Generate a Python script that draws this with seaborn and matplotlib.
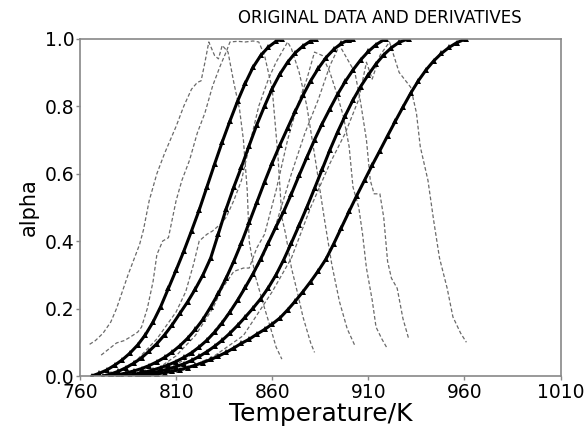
import pandas as pd
import matplotlib
matplotlib.use("Agg")
import matplotlib.pyplot as plt
import seaborn as sns

# alpha (conversion) curves
t1 = [766, 770, 774, 778, 782, 786, 790, 794, 798, 802, 806, 810, 814, 818, 822, 826, 830, 834, 838, 842, 846, 850, 854, 858, 862, 865]
a1 = [0.000, 0.008, 0.018, 0.032, 0.048, 0.068, 0.092, 0.122, 0.160, 0.206, 0.260, 0.314, 0.370, 0.430, 0.492, 0.560, 0.628, 0.694, 0.756, 0.815, 0.868, 0.915, 0.950, 0.975, 0.992, 1.000]

t2 = [772, 776, 780, 784, 788, 792, 796, 800, 804, 808, 812, 816, 820, 824, 828, 832, 836, 840, 844, 848, 852, 856, 860, 864, 868, 872, 876, 880, 883]
a2 = [0.000, 0.006, 0.014, 0.025, 0.038, 0.054, 0.074, 0.096, 0.122, 0.152, 0.186, 0.220, 0.258, 0.300, 0.350, 0.422, 0.495, 0.560, 0.620, 0.683, 0.745, 0.800, 0.852, 0.895, 0.930, 0.958, 0.978, 0.993, 1.000]

t3 = [776, 780, 784, 788, 792, 796, 800, 804, 808, 812, 816, 820, 824, 828, 832, 836, 840, 844, 848, 852, 856, 860, 864, 868, 872, 876, 880, 884, 888, 892, 896, 900, 902]
a3 = [0.000, 0.004, 0.009, 0.015, 0.022, 0.031, 0.042, 0.055, 0.071, 0.090, 0.112, 0.138, 0.168, 0.205, 0.245, 0.290, 0.340, 0.395, 0.455, 0.515, 0.575, 0.632, 0.685, 0.735, 0.785, 0.832, 0.875, 0.912, 0.944, 0.968, 0.986, 0.997, 1.000]

t4 = [782, 786, 790, 794, 798, 802, 806, 810, 814, 818, 822, 826, 830, 834, 838, 842, 846, 850, 854, 858, 862, 866, 870, 874, 878, 882, 886, 890, 894, 898, 902, 906, 910, 914, 919]
a4 = [0.000, 0.003, 0.007, 0.012, 0.018, 0.025, 0.033, 0.043, 0.055, 0.069, 0.086, 0.106, 0.130, 0.158, 0.190, 0.225, 0.263, 0.303, 0.347, 0.395, 0.443, 0.488, 0.540, 0.595, 0.648, 0.700, 0.748, 0.792, 0.835, 0.873, 0.907, 0.937, 0.962, 0.982, 1.000]

t5 = [786, 790, 794, 798, 802, 806, 810, 814, 818, 822, 826, 830, 834, 838, 842, 846, 850, 854, 858, 862, 866, 870, 874, 878, 882, 886, 890, 894, 898, 902, 906, 910, 914, 918, 922, 926, 931]
a5 = [0.000, 0.003, 0.006, 0.010, 0.015, 0.021, 0.028, 0.036, 0.046, 0.058, 0.072, 0.088, 0.106, 0.127, 0.150, 0.175, 0.201, 0.229, 0.262, 0.300, 0.345, 0.395, 0.447, 0.500, 0.556, 0.613, 0.670, 0.723, 0.772, 0.818, 0.858, 0.893, 0.925, 0.952, 0.973, 0.989, 1.000]

t6 = [792, 796, 800, 804, 808, 812, 816, 820, 824, 828, 832, 836, 840, 844, 848, 852, 856, 860, 864, 868, 872, 876, 880, 884, 888, 892, 896, 900, 904, 908, 912, 916, 920, 924, 928, 932, 936, 940, 944, 948, 952, 956, 961]
a6 = [0.000, 0.003, 0.006, 0.010, 0.014, 0.019, 0.025, 0.032, 0.040, 0.049, 0.059, 0.070, 0.083, 0.097, 0.109, 0.124, 0.138, 0.154, 0.172, 0.196, 0.222, 0.250, 0.280, 0.312, 0.347, 0.392, 0.440, 0.488, 0.535, 0.580, 0.625, 0.668, 0.712, 0.755, 0.797, 0.838, 0.875, 0.907, 0.934, 0.956, 0.974, 0.988, 1.000]

# normalised derivative curves (dashed)
dt1 = [765, 768, 772, 776, 779, 782, 785, 788, 791, 793, 796, 800, 804, 807, 810, 814, 818, 821, 823, 825, 827, 830, 832, 834, 837, 840, 843, 845, 847, 848, 851, 855, 859, 862, 865]
da1 = [0.094, 0.105, 0.127, 0.160, 0.200, 0.250, 0.300, 0.345, 0.390, 0.433, 0.520, 0.600, 0.660, 0.700, 0.740, 0.800, 0.850, 0.870, 0.875, 0.930, 0.990, 0.950, 0.940, 0.980, 0.960, 0.870, 0.790, 0.700, 0.550, 0.400, 0.300, 0.220, 0.145, 0.086, 0.050]

dt2 = [771, 775, 779, 783, 786, 790, 792, 795, 798, 800, 803, 806, 810, 813, 817, 821, 825, 829, 833, 836, 838, 842, 846, 850, 853, 856, 860, 863, 865, 867, 870, 873, 876, 880, 882]
da2 = [0.062, 0.080, 0.098, 0.105, 0.115, 0.130, 0.145, 0.200, 0.280, 0.360, 0.400, 0.410, 0.520, 0.580, 0.640, 0.720, 0.780, 0.860, 0.920, 0.960, 0.990, 0.992, 0.990, 0.993, 0.990, 0.950, 0.850, 0.650, 0.470, 0.420, 0.320, 0.250, 0.175, 0.098, 0.070]

dt3 = [785, 790, 795, 800, 805, 810, 815, 819, 822, 826, 829, 833, 836, 840, 844, 848, 853, 858, 862, 866, 868, 870, 874, 878, 883, 887, 891, 895, 899, 903]
da3 = [0.030, 0.050, 0.080, 0.110, 0.150, 0.190, 0.250, 0.330, 0.400, 0.420, 0.430, 0.450, 0.470, 0.520, 0.580, 0.680, 0.800, 0.880, 0.930, 0.970, 0.990, 0.970, 0.900, 0.800, 0.620, 0.470, 0.330, 0.220, 0.140, 0.090]

dt4 = [795, 800, 810, 820, 829, 834, 840, 845, 848, 852, 856, 862, 868, 873, 878, 882, 886, 890, 894, 897, 900, 902, 905, 907, 909, 912, 914, 917, 920]
da4 = [0.010, 0.020, 0.060, 0.120, 0.200, 0.260, 0.310, 0.320, 0.320, 0.380, 0.420, 0.550, 0.700, 0.800, 0.880, 0.960, 0.950, 0.900, 0.830, 0.770, 0.680, 0.560, 0.500, 0.420, 0.320, 0.225, 0.145, 0.110, 0.080]

dt5 = [800, 805, 815, 825, 835, 845, 855, 862, 870, 877, 884, 890, 895, 900, 903, 906, 909, 911, 913, 916, 918, 920, 922, 925, 928, 931]
da5 = [0.010, 0.020, 0.050, 0.100, 0.170, 0.250, 0.350, 0.450, 0.600, 0.720, 0.820, 0.920, 0.980, 0.930, 0.900, 0.810, 0.700, 0.580, 0.540, 0.540, 0.470, 0.340, 0.290, 0.260, 0.170, 0.110]

dt6 = [810, 815, 830, 845, 860, 870, 880, 890, 898, 905, 909, 912, 916, 921, 926, 932, 935, 937, 941, 944, 947, 951, 954, 958, 961]
da6 = [0.010, 0.020, 0.060, 0.120, 0.250, 0.350, 0.500, 0.630, 0.720, 0.820, 0.930, 0.880, 0.950, 0.990, 0.900, 0.856, 0.780, 0.680, 0.580, 0.460, 0.350, 0.260, 0.175, 0.127, 0.100]

alpha_curves = [(t1, a1), (t2, a2), (t3, a3), (t4, a4), (t5, a5), (t6, a6)]
deriv_curves = [(dt1, da1), (dt2, da2), (dt3, da3), (dt4, da4), (dt5, da5), (dt6, da6)]

x_ticks = [760, 810, 860, 910, 960, 1010]
y_ticks = [0.0, 0.2, 0.4, 0.6, 0.8, 1.0]

sns.set_theme(style="white")
plt.rcParams['font.family'] = ['DejaVu Sans']
plt.rcParams['text.color'] = 'black'
plt.rcParams['axes.labelcolor'] = 'black'

fig = plt.figure(figsize=(5.87, 4.29), dpi=100)
ax = fig.add_axes([0.1363, 0.1235, 0.8187, 0.7865])

# dashed derivative curves first, underneath
for t, a in deriv_curves:
    df = pd.DataFrame({'T': t, 'alpha': a})
    sns.lineplot(data=df, x='T', y='alpha', ax=ax, color='#6a6a6a', lw=0.9,
                 linestyle=(0, (3, 1.8)), estimator=None, sort=False)

# alpha curves with triangle markers
for t, a in alpha_curves:
    df = pd.DataFrame({'T': t, 'alpha': a})
    sns.lineplot(data=df, x='T', y='alpha', ax=ax, color='black', lw=2.2,
                 marker='^', markersize=5, markeredgewidth=0, estimator=None)

ax.set_xlim(760, 1010)
ax.set_ylim(0, 1)
ax.set_xticks(x_ticks)
ax.set_yticks(y_ticks)
ax.set_xticklabels([str(v) for v in x_ticks])
ax.set_yticklabels([f'{v:.1f}' for v in y_ticks])
ax.tick_params(axis='x', labelsize=13.5, length=3, width=1, color='#888888',
               labelcolor='black', direction='out', pad=2, bottom=True)
ax.tick_params(axis='y', labelsize=13.5, length=3, width=1, color='#888888',
               labelcolor='black', direction='out', pad=1, left=True)

for s in ax.spines.values():
    s.set_color('#888888')
    s.set_linewidth(1.2)

ax.set_xlabel('Temperature/K', fontsize=18, labelpad=0)
ax.set_ylabel('alpha', fontsize=15, labelpad=4)
fig.text(380 / 587, 1 - 18 / 429, 'ORIGINAL DATA AND DERIVATIVES',
         ha='center', va='center', fontsize=12, color='black')
ax.grid(False)

fig.savefig('out.png', dpi=100)
